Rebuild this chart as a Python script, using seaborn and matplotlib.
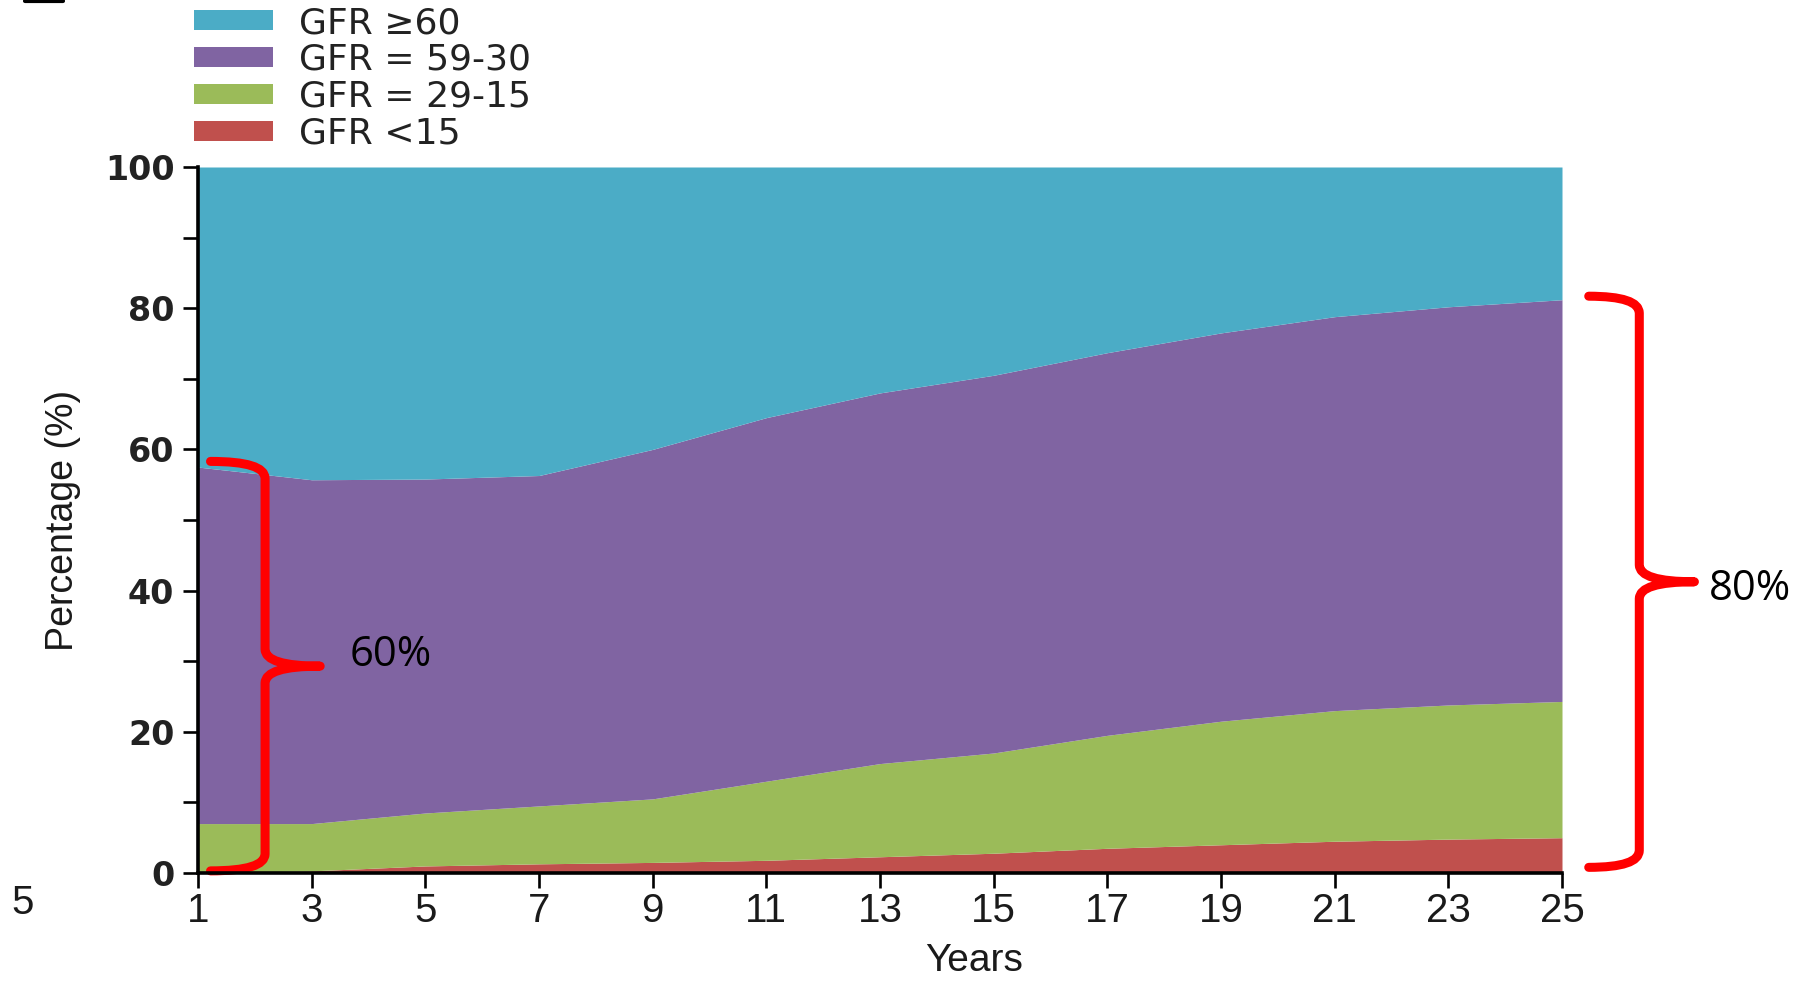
import numpy as np
import pandas as pd
import seaborn as sns
import matplotlib.pyplot as plt
from matplotlib.patches import Patch, PathPatch
from matplotlib.path import Path

# years on x axis
years = [1, 3, 5, 7, 9, 11, 13, 15, 17, 19, 21, 23, 25]

# share of patients in each GFR band (%)
gfr_lt15 = [0.0, 0.3, 1.0, 1.3, 1.5, 1.8, 2.3, 2.8, 3.5, 4.0, 4.5, 4.8, 5.0]
gfr_29_15 = [7.0, 6.7, 7.5, 8.2, 9.0, 11.2, 13.2, 14.2, 16.0, 17.5, 18.5, 19.0, 19.3]
gfr_59_30 = [50.5, 48.7, 47.3, 46.8, 49.5, 51.5, 52.5, 53.5, 54.2, 55.0, 55.8, 56.4, 56.9]
gfr_ge60 = [42.5, 44.3, 44.2, 43.7, 40.0, 35.5, 32.0, 29.5, 26.3, 23.5, 21.2, 19.8, 18.8]

labels = ["GFR \u226560", "GFR = 59-30", "GFR = 29-15", "GFR <15"]
colors = ["#4BACC6", "#8064A2", "#9BBB59", "#C0504D"]

df = pd.DataFrame({"year": years, labels[3]: gfr_lt15, labels[2]: gfr_29_15,
                   labels[1]: gfr_59_30, labels[0]: gfr_ge60})

sns.set_theme(style="ticks")
plt.rcParams["font.family"] = ["DejaVu Sans"]
arial = ["Liberation Sans", "DejaVu Sans"]

fig = plt.figure(figsize=(18.08, 9.82), dpi=100)
ax = fig.add_axes([198 / 1808, 1 - 873 / 982, (1562 - 198) / 1808, (873 - 167) / 982])

# stacked areas, bottom band first
ax.stackplot(df["year"], df[labels[3]], df[labels[2]], df[labels[1]], df[labels[0]],
             colors=colors[::-1], linewidth=0)

ax.set_xlim(1, 25)
ax.set_ylim(0, 100)
ax.set_xticks(years)
ax.set_yticks(range(0, 101, 20))
ax.set_yticks(range(10, 100, 20), minor=True)
sns.despine(ax=ax)
for s in ["left", "bottom"]:
    ax.spines[s].set_linewidth(2.6)
    ax.spines[s].set_color("black")
ax.tick_params(axis="both", which="both", direction="out", length=11, width=1.9, color="black")
ax.tick_params(axis="y", labelsize=24, pad=6)
ax.tick_params(axis="x", labelsize=29, pad=3)
for t in ax.get_yticklabels():
    t.set_fontweight("bold")
    t.set_color("#222222")
for t in ax.get_xticklabels():
    t.set_family(arial)
    t.set_color("#1a1a1a")

ax.text(-0.099, 0.5, "Percentage (%)", transform=ax.transAxes, rotation=90,
        ha="center", va="center", fontsize=27, family=arial, color="#1a1a1a")
fig.text(974 / 1808, 3 / 982, "Years", ha="center", va="bottom",
         fontsize=28, family=arial, color="#1a1a1a")

# legend
handles = [Patch(facecolor=c, edgecolor="none") for c in colors]
fig.legend(handles, labels, loc="upper left", bbox_to_anchor=(194 / 1808, 1 - 6 / 982),
           frameon=False, fontsize=26, handlelength=2.2, handleheight=0.45,
           handletextpad=0.72, labelspacing=0.08, borderpad=0, borderaxespad=0,
           labelcolor="#222222")


def brace(x_end, x_spine, x_tip, y_bot, y_top, r):
    y_mid = (y_bot + y_top) / 2
    verts = [(x_end, y_top), (x_spine, y_top), (x_spine, y_top - r),
             (x_spine, y_mid + r), (x_spine, y_mid), (x_tip, y_mid),
             (x_spine, y_mid), (x_spine, y_mid - r),
             (x_spine, y_bot + r), (x_spine, y_bot), (x_end, y_bot)]
    codes = [Path.MOVETO, Path.CURVE3, Path.CURVE3,
             Path.LINETO, Path.CURVE3, Path.CURVE3,
             Path.CURVE3, Path.CURVE3,
             Path.LINETO, Path.CURVE3, Path.CURVE3]
    p = PathPatch(Path(verts, codes), facecolor="none", edgecolor="#FF0000",
                  linewidth=6.5, clip_on=False, capstyle="round", joinstyle="round")
    ax.add_patch(p)


brace(1.22, 2.18, 3.15, 0.3, 58.3, 2.4)
brace(25.47, 26.36, 27.33, 0.8, 81.7, 2.4)
ax.text(4.4, 30.9, "60%", fontsize=30, family=["Open Sans"], ha="center", va="center", color="black")
ax.text(28.3, 40.2, "80%", fontsize=30, family=["Open Sans"], ha="center", va="center",
        color="black", clip_on=False)

# stray bits at the edges of the cropped figure
fig.text(23 / 1808, 1 - 903 / 982, "5", fontsize=29, ha="center", va="center",
         family=arial, color="#1a1a1a")
fig.add_artist(plt.Line2D([25 / 1808, 63 / 1808], [1 - 1 / 982, 1 - 1 / 982],
                          color="black", linewidth=3))

fig.savefig("out.png", dpi=100)
